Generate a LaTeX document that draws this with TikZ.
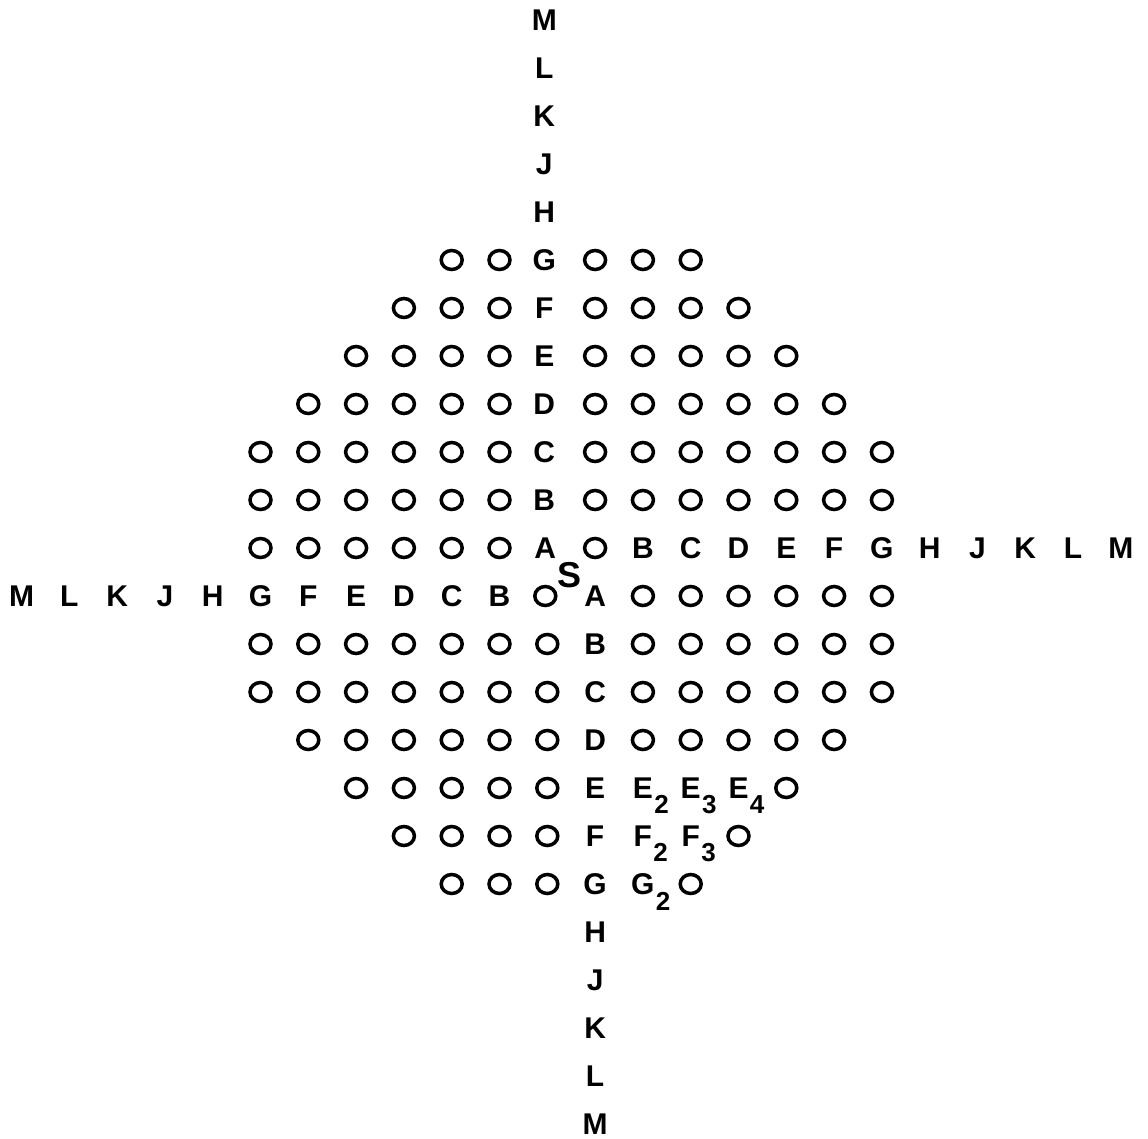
\documentclass[tikz,border=0pt]{standalone}
\usepackage{fontspec}
\newfontfamily\lf{Liberation Sans}
\usetikzlibrary{shapes.geometric}
\tikzset{
 ring/.style={ellipse, draw, line width=3.5pt, minimum width=21pt, minimum height=19pt, inner sep=0pt},
 lab/.style={inner sep=0pt, font=\lf\bfseries\fontsize{30}{30}\selectfont},
 subl/.style={inner sep=0pt, anchor=north west, font=\lf\bfseries\fontsize{26}{26}\selectfont},
 bigS/.style={inner sep=0pt, font=\lf\bfseries\fontsize{36}{36}\selectfont},
}
\begin{document}
\begin{tikzpicture}[x=1pt,y=-1pt]
\useasboundingbox (0,0) rectangle (1148,1139);
% top vertical column
\foreach \L [count=\k from 0] in {M,L,K,J,H}
  \node[lab] (l-\k-11) at ({21.5+47.8*11-3},{20+48*\k}) {\L};
% upper rows
\foreach \r/\p/\q/\s/\t/\L in {5/9/10/12/14/G, 6/8/10/12/15/F, 7/7/10/12/16/E, 8/6/10/12/17/D, 9/5/10/12/18/C, 10/5/10/12/18/B}{
  \foreach \i in {\p,...,\q} {\node[ring] (o-\r-\i) at ({21.5+47.8*\i},{20+48*\r}) {};}
  \node[lab] (l-\r-11) at ({21.5+47.8*11-3},{20+48*\r}) {\L};
  \foreach \i in {\s,...,\t} {\node[ring] (o-\r-\i) at ({21.5+47.8*\i},{20+48*\r}) {};}
}
% row 11
\foreach \i in {5,...,10} {\node[ring] (o-11-\i) at ({21.5+47.8*\i},{20+48*11}) {};}
\node[lab] (l-11-11) at ({21.5+47.8*11-2},{20+48*11}) {A};
\node[ring] (o-11-12) at ({21.5+47.8*12},{20+48*11}) {};
\foreach \L [count=\k from 13] in {B,C,D,E,F,G,H,J,K,L,M}
  \node[lab] (l-11-\k) at ({21.5+47.8*\k},{20+48*11}) {\L};
% S
\node[bigS] (S) at (569,575) {S};
% row 12
\foreach \L [count=\k from 0] in {M,L,K,J,H,G,F,E,D,C,B}
  \node[lab] (l-12-\k) at ({21.5+47.8*\k},{20+48*12}) {\L};
\node[ring] (o-12-11) at ({21.5+47.8*11-2},{20+48*12}) {};
\node[lab] (l-12-12) at ({21.5+47.8*12},{20+48*12}) {A};
\foreach \i in {13,...,18} {\node[ring] (o-12-\i) at ({21.5+47.8*\i},{20+48*12}) {};}
% lower rows
\foreach \r/\p/\q/\L/\s/\t in {13/5/11/B/13/18, 14/5/11/C/13/18, 15/6/11/D/13/17, 16/7/11/E/16/16, 17/8/11/F/15/15, 18/9/11/G/14/14}{
  \foreach \i in {\p,...,\q} {\node[ring] (o-\r-\i) at ({21.5+47.8*\i},{20+48*\r}) {};}
  \node[lab] (l-\r-12) at ({21.5+47.8*12},{20+48*\r}) {\L};
  \foreach \i in {\s,...,\t} {\node[ring] (o-\r-\i) at ({21.5+47.8*\i},{20+48*\r}) {};}
}
% subscripted labels
\foreach \r/\i/\L/\n in {16/13/E/2, 16/14/E/3, 16/15/E/4, 17/13/F/2, 17/14/F/3, 18/13/G/2}{
  \node[lab] (l-\r-\i) at ({21.5+47.8*\i},{20+48*\r}) {\L};
  \node[subl] (s-\r-\i) at ([xshift=1pt,yshift=3pt]l-\r-\i.south east) {\n};
}
% bottom vertical column
\foreach \L [count=\k from 19] in {H,J,K,L,M}
  \node[lab] (l-\k-12) at ({21.5+47.8*12},{20+48*\k}) {\L};
\end{tikzpicture}
\end{document}
